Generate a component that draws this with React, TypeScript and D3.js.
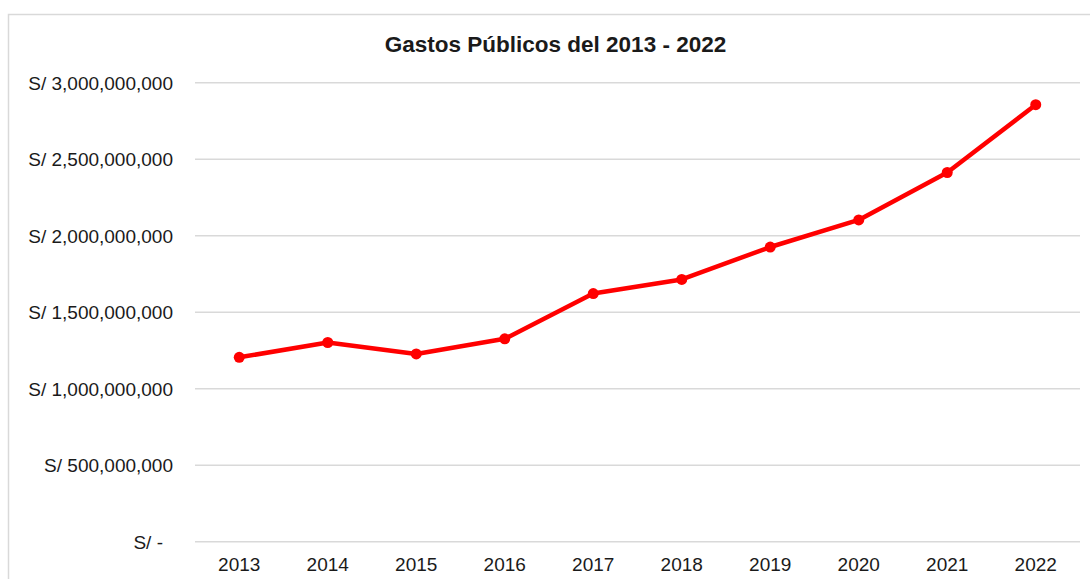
import React from "react";
import * as d3 from "d3";

const years = ["2013", "2014", "2015", "2016", "2017", "2018", "2019", "2020", "2021", "2022"];
const gastos = [1205000000, 1302000000, 1227000000, 1326000000, 1622000000, 1714000000, 1926000000, 2103000000, 2413000000, 2856000000];
const yTicks = [0, 500000000, 1000000000, 1500000000, 2000000000, 2500000000, 3000000000];
const title = "Gastos Públicos del 2013 - 2022";

const W = 1090;
const H = 579;
const plot = { left: 195, right: 1080, top: 82.7, bottom: 541.7 };
const font = "'Liberation Sans', Arial, sans-serif";

const fmt = (v: number) => (v === 0 ? "S/ -" : "S/ " + d3.format(",")(v));

export default function App() {
  const x = d3.scaleBand<string>().domain(years).range([plot.left, plot.right]).padding(0);
  const y = d3.scaleLinear().domain([0, 3000000000]).range([plot.bottom, plot.top]);
  const cx = (yr: string) => (x(yr) as number) + x.bandwidth() / 2;
  const line = d3
    .line<number>()
    .x((_, i) => cx(years[i]))
    .y((d) => y(d));

  return (
    <svg
      width={W}
      height={H}
      style={{ position: "absolute", left: 0, top: 0, display: "block", background: "#fff" }}
    >
      <rect x={8.5} y={14.5} width={1200} height={700} fill="#fff" stroke="#d9d9d9" strokeWidth={1.5} />
      <text
        x={555.5}
        y={51.5}
        textAnchor="middle"
        fontFamily={font}
        fontWeight="bold"
        fontSize={22.5}
        fill="#1a1a1a"
      >
        {title}
      </text>
      {yTicks.map((t) => (
        <g key={t}>
          <line x1={plot.left} x2={plot.right} y1={y(t)} y2={y(t)} stroke="#d9d9d9" strokeWidth={1.5} />
          <text
            x={t === 0 ? 163 : 173}
            y={y(t)}
            dy="0.36em"
            textAnchor="end"
            fontFamily={font}
            fontSize={19}
            fill="#1a1a1a"
          >
            {fmt(t)}
          </text>
        </g>
      ))}
      {years.map((yr) => (
        <text
          key={yr}
          x={cx(yr)}
          y={571}
          textAnchor="middle"
          fontFamily={font}
          fontSize={19}
          fill="#1a1a1a"
        >
          {yr}
        </text>
      ))}
      <path d={line(gastos) || ""} fill="none" stroke="#ff0000" strokeWidth={4.5} strokeLinejoin="round" />
      {gastos.map((v, i) => (
        <circle key={years[i]} cx={cx(years[i])} cy={y(v)} r={5.5} fill="#ff0000" />
      ))}
    </svg>
  );
}
